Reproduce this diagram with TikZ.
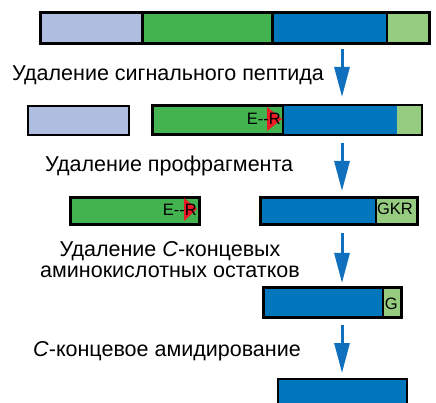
\documentclass[tikz,border=0pt]{standalone}
\usepackage{fontspec}
\setmainfont{Liberation Sans}
\usetikzlibrary{arrows.meta}
\definecolor{sigblue}{RGB}{175,190,224}
\definecolor{progreen}{RGB}{67,179,80}
\definecolor{pepblue}{RGB}{0,119,189}
\definecolor{tailgreen}{RGB}{150,204,128}
\definecolor{arrblue}{RGB}{16,112,190}
\definecolor{cutred}{RGB}{237,28,36}
\tikzset{
  seg/.style={draw=black, line width=2pt, inner sep=0pt, anchor=north west},
  lbl/.style={anchor=base west, inner sep=0pt, font=\fontsize{21.5}{24}\selectfont},
  lblc/.style={lbl, anchor=base},
  tag/.style={anchor=base east, inner sep=0pt, font=\fontsize{16.5}{18}\selectfont},
  procarrow/.style={arrblue, line width=3pt, -{Triangle[width=15pt,length=30pt]}},
  cut/.style={fill=cutred, draw=none}
}
\begin{document}
\begin{tikzpicture}[x=1pt,y=-1pt]
\useasboundingbox (0,0) rectangle (436,403);

% preproprotein
\node[seg, fill=sigblue,   minimum width=102pt, minimum height=30pt] (a1) at (40,12) {};
\node[seg, fill=progreen,  minimum width=130pt, minimum height=30pt] (a2) at (142,12) {};
\node[seg, fill=pepblue,   minimum width=114pt, minimum height=30pt] (a3) at (272,12) {};
\node[seg, fill=tailgreen, minimum width=42pt,  minimum height=30pt] (a4) at (386,12) {};
\draw[line width=2pt] (a1.north west) rectangle (a4.south east);
\draw[line width=2pt] (a2.north west) -- (a2.south west) (a3.north west) -- (a3.south west);

\coordinate (r1s) at (342,49);
\coordinate (r1e) at (342,97);
\draw[procarrow] (r1s) -- (r1e);
\node[lbl] (t1) at (12,81) {Удаление сигнального пептида};

% proprotein
\node[seg, fill=sigblue,  minimum width=101pt, minimum height=29pt] (b0) at (27,105) {};
\node[seg, fill=progreen, minimum width=131pt, minimum height=28pt] (b1) at (152,105) {};
\node[seg, fill=pepblue,  minimum width=113pt, minimum height=28pt] (b2) at (283,105) {};
\node[seg, fill=tailgreen,minimum width=24pt,  minimum height=28pt] (b3) at (396,105) {};
\draw[line width=2pt, fill=pepblue] (b2.north west) rectangle (b2.south east);
\fill[tailgreen] ([xshift=1pt,yshift=-1pt]b3.north west) rectangle ([xshift=-1pt,yshift=1pt]b3.south east);
\draw[line width=2pt] (b1.north west) rectangle (b3.south east);
\draw[line width=2pt] (b2.north west) -- (b2.south west);
\fill[cut] (267,107) -- (282,119) -- (267,131) -- cycle;
\node[tag] (k1) at (281,125) {E-{}-R};

\coordinate (r2s) at (342,143);
\coordinate (r2e) at (342,191);
\draw[procarrow] (r2s) -- (r2e);
\node[lbl] (t2) at (45,172) {Удаление профрагмента};

% cleaved pro-fragment and peptide with basic tail
\node[seg, fill=progreen, minimum width=128pt, minimum height=26pt] (c1) at (70,197) {};
\fill[cut] (184,198) -- (197,209) -- (184,221) -- cycle;
\draw[line width=2pt] (c1.north west) rectangle (c1.south east);
\node[tag] (k2) at (197,216) {E-{}-R};

\node[seg, fill=pepblue,   minimum width=115pt, minimum height=26pt] (c2) at (260,197) {};
\node[seg, fill=tailgreen, minimum width=41pt,  minimum height=26pt] (c3) at (375,197) {};
\draw[line width=2pt] (c2.north west) rectangle (c3.south east);
\node[tag] (k3) at (413,215) {GKR};

\coordinate (r3s) at (342,233);
\coordinate (r3e) at (342,283);
\draw[procarrow] (r3s) -- (r3e);
\node[lblc] (t3) at (170,256) {Удаление \textit{C}-концевых};
\node[lblc] (t4) at (170,277) {аминокислотных остатков};

% glycine-extended peptide
\node[seg, fill=pepblue,   minimum width=119pt, minimum height=29pt] (d1) at (263,287) {};
\node[seg, fill=tailgreen, minimum width=18pt,  minimum height=29pt] (d2) at (382,287) {};
\draw[line width=2pt] (d1.north west) rectangle (d2.south east);
\node[tag] (k4) at (398,309) {G};

\coordinate (r4s) at (342,325);
\coordinate (r4e) at (342,373);
\draw[procarrow] (r4s) -- (r4e);
\node[lbl] (t5) at (33,356) {\textit{C}-концевое амидирование};

% mature amidated peptide
\node[seg, fill=pepblue, minimum width=129pt, minimum height=40pt] (e1) at (277,378) {};
\end{tikzpicture}
\end{document}
